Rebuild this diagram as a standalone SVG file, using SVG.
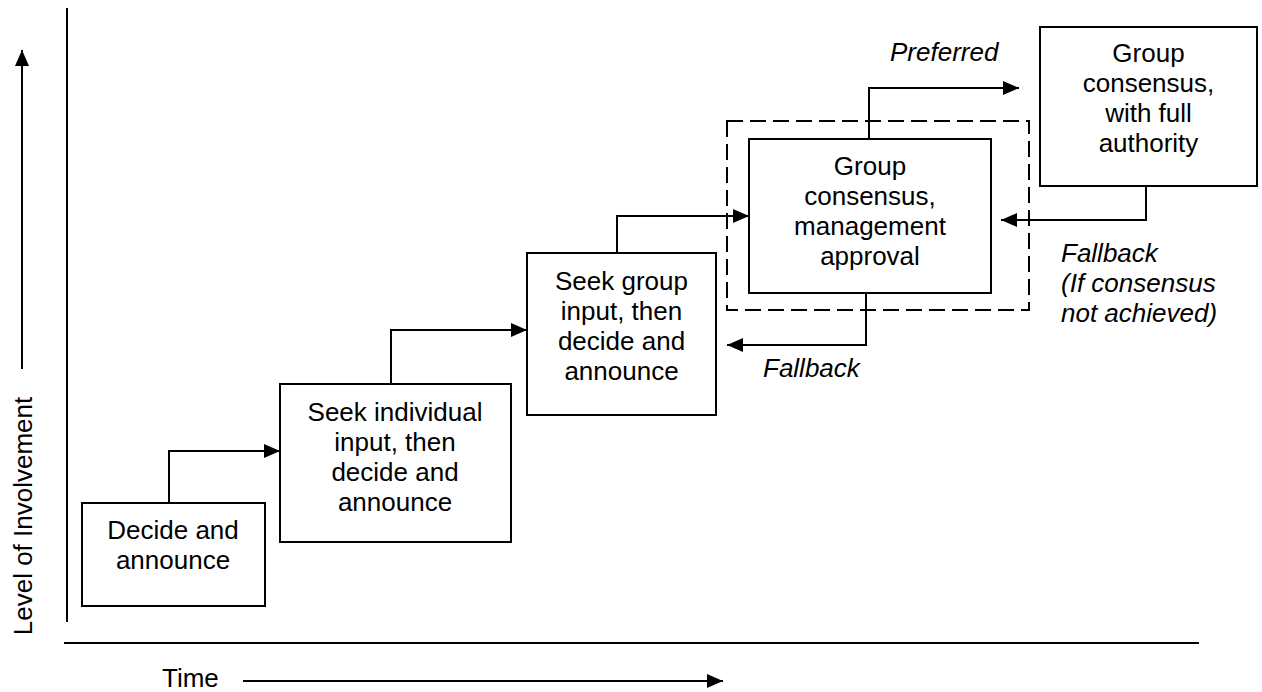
<svg xmlns="http://www.w3.org/2000/svg" width="1262" height="692" viewBox="0 0 1262 692">
<style>
  .box { fill: #ffffff; stroke: #000000; stroke-width: 2; }
  .dash { fill: none; stroke: #000000; stroke-width: 2; stroke-dasharray: 16 7; }
  .line { fill: none; stroke: #000000; stroke-width: 2; }
  .t { font-family: "Liberation Sans", Arial, sans-serif; font-size: 26px; fill: #000000; }
  .c { text-anchor: middle; }
  .i { font-style: italic; }
</style>
<defs>
  <marker id="arr" markerUnits="userSpaceOnUse" markerWidth="16" markerHeight="14" refX="16" refY="7" orient="auto">
    <path d="M0,0 L16,7 L0,14 z" fill="#000000"/>
  </marker>
</defs>

<g id="axes">
  <path class="line" d="M67,8 V622"/>
  <path class="line" d="M64,643 H1199"/>
  <path class="line" d="M22,369 V50" marker-end="url(#arr)"/>
  <path class="line" d="M243,681 H723" marker-end="url(#arr)"/>
  <text class="t c" transform="translate(32,516) rotate(-90)">Level of Involvement</text>
  <text class="t" x="162" y="687">Time</text>
</g>

<g id="group-frame">
  <rect class="dash" x="727" y="121" width="302" height="189"/>
</g>

<g id="connectors">
  <path class="line" d="M169,503 V451 H280" marker-end="url(#arr)"/>
  <path class="line" d="M391,384 V330 H527" marker-end="url(#arr)"/>
  <path class="line" d="M617,253 V216 H749" marker-end="url(#arr)"/>
  <path class="line" d="M869,139 V88 H1019" marker-end="url(#arr)"/>
  <path class="line" d="M866,293 V345 H727" marker-end="url(#arr)"/>
  <path class="line" d="M1146,186 V220 H1001" marker-end="url(#arr)"/>
  <text class="t i" x="890" y="61">Preferred</text>
  <text class="t i" x="763" y="377">Fallback</text>
  <text class="t i" x="1061" y="262">Fallback</text>
  <text class="t i" x="1061" y="292">(If consensus</text>
  <text class="t i" x="1061" y="322">not achieved)</text>
</g>

<g id="node-decide">
  <rect class="box" x="82" y="503" width="183" height="103"/>
  <text class="t c" x="173" y="539">Decide and</text>
  <text class="t c" x="173" y="569">announce</text>
</g>

<g id="node-individual">
  <rect class="box" x="280" y="384" width="231" height="158"/>
  <text class="t c" x="395" y="421">Seek individual</text>
  <text class="t c" x="395" y="451">input, then</text>
  <text class="t c" x="395" y="481">decide and</text>
  <text class="t c" x="395" y="511">announce</text>
</g>

<g id="node-group-input">
  <rect class="box" x="527" y="253" width="189" height="162"/>
  <text class="t c" x="621.5" y="290">Seek group</text>
  <text class="t c" x="621.5" y="320">input, then</text>
  <text class="t c" x="621.5" y="350">decide and</text>
  <text class="t c" x="621.5" y="380">announce</text>
</g>

<g id="node-consensus-mgmt">
  <rect class="box" x="749" y="139" width="242" height="154"/>
  <text class="t c" x="870" y="175">Group</text>
  <text class="t c" x="870" y="205">consensus,</text>
  <text class="t c" x="870" y="235">management</text>
  <text class="t c" x="870" y="265">approval</text>
</g>

<g id="node-consensus-full">
  <rect class="box" x="1040" y="27" width="217" height="159"/>
  <text class="t c" x="1148.5" y="62">Group</text>
  <text class="t c" x="1148.5" y="92">consensus,</text>
  <text class="t c" x="1148.5" y="122">with full</text>
  <text class="t c" x="1148.5" y="152">authority</text>
</g>
</svg>
